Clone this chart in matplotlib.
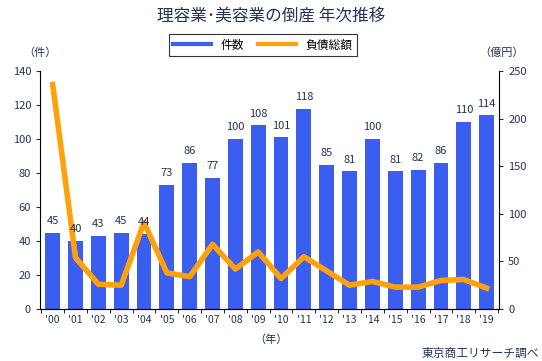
import numpy as np
import matplotlib.pyplot as plt

plt.rcParams['font.family'] = ['Noto Sans CJK JP', 'DejaVu Sans']

years = ["'00", "'01", "'02", "'03", "'04", "'05", "'06", "'07", "'08", "'09",
         "'10", "'11", "'12", "'13", "'14", "'15", "'16", "'17", "'18", "'19"]
counts = [45, 40, 43, 45, 44, 73, 86, 77, 100, 108,
          101, 118, 85, 81, 100, 81, 82, 86, 110, 114]
debt = [236, 54, 26, 25, 91, 38, 34, 68, 42, 60,
        32, 55, 40, 25, 29, 23, 23, 30, 31, 22]

bar_color = "#3a5ef0"
line_color = "#ffa10a"
text_color = "#223355"

fig = plt.figure(figsize=(5.42, 3.61), dpi=100)
ax = fig.add_axes([0.074, 0.144, 0.847, 0.659])
x = np.arange(len(years))
ax.bar(x, counts, width=0.65, color=bar_color, zorder=2)
ax.set_xlim(-0.55, len(years) - 0.45)
ax.set_ylim(0, 140)
ax.set_yticks(range(0, 141, 20))
ax.set_xticks(x)
ax.set_xticklabels(years)
ax.set_xticks(np.arange(-0.5, len(years), 1), minor=True)
ax.tick_params(axis="x", which="major", length=0, labelsize=7.5, pad=4, colors=text_color)
ax.tick_params(axis="x", which="minor", length=3, direction="out")
ax.tick_params(axis="y", labelsize=8, length=3, colors=text_color)
for s in ["top", "right"]:
    ax.spines[s].set_visible(False)

ax2 = ax.twinx()
ax2.plot(x, debt, color=line_color, lw=4, zorder=3)
ax2.set_ylim(0, 250)
ax2.set_yticks(range(0, 251, 50))
ax2.tick_params(axis="y", labelsize=8, length=3, colors=text_color)
ax2.spines["top"].set_visible(False)
ax2.spines["left"].set_visible(False)

# bar labels drawn on top of the line
for xi, c in zip(x, counts):
    ax2.text(xi, c + 4, str(c), ha="center", va="bottom", fontsize=8, color=text_color,
             transform=ax.transData, zorder=5)

fig.text(0.5, 0.955, "理容業･美容業の倒産 年次推移", ha="center", va="center",
         fontsize=12, color=text_color)
h1 = plt.Line2D([], [], color=bar_color, lw=3)
h2 = plt.Line2D([], [], color=line_color, lw=3)
leg = fig.legend([h1, h2], ["件数", "負債総額"], loc="center", bbox_to_anchor=(0.485, 0.875),
                 ncol=2, fontsize=8.5, frameon=True, fancybox=False, edgecolor="black",
                 handlelength=3.2, columnspacing=1.2, borderpad=0.35)
leg.get_frame().set_linewidth(0.8)
fig.text(0.074, 0.855, "（件）", ha="center", va="center", fontsize=8, color=text_color)
fig.text(0.925, 0.855, "（億円）", ha="center", va="center", fontsize=8, color=text_color)
fig.text(0.5, 0.06, "（年）", ha="center", va="center", fontsize=8, color=text_color)
fig.text(0.995, 0.022, "東京商工リサーチ調べ", ha="right", va="center", fontsize=8.5, color=text_color)

fig.savefig("out.png", dpi=100)
